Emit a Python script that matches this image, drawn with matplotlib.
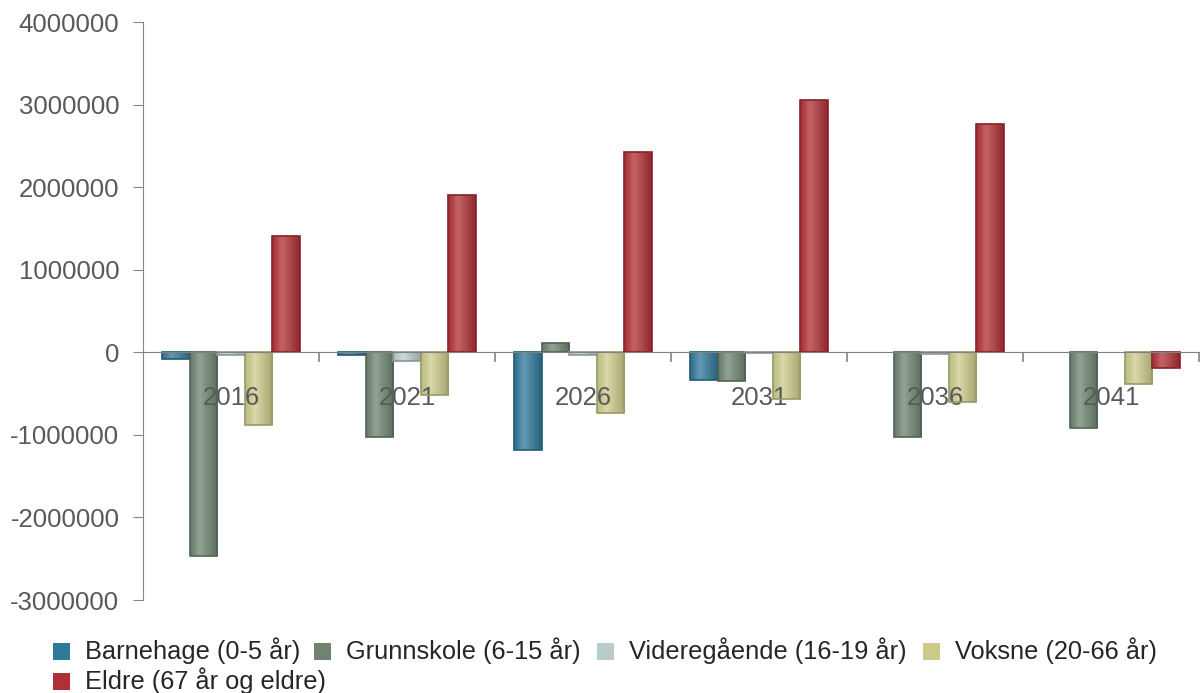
import numpy as np
import matplotlib
matplotlib.use("Agg")
import matplotlib.pyplot as plt
from matplotlib.colors import LinearSegmentedColormap, to_rgb
from matplotlib.patches import Rectangle
from matplotlib.ticker import FuncFormatter

plt.rcParams["font.family"] = ["Liberation Sans", "DejaVu Sans"]

years = ["2016", "2021", "2026", "2031", "2036", "2041"]
series = [
    "Barnehage (0-5 år)",
    "Grunnskole (6-15 år)",
    "Videregående (16-19 år)",
    "Voksne (20-66 år)",
    "Eldre (67 år og eldre)",
]
barnehage = [-85000, -35000, -1180000, -330000, 0, 0]
grunnskole = [-2470000, -1020000, 110000, -350000, -1020000, -920000]
videregaende = [-35000, -110000, -35000, -12000, -15000, 0]
voksne = [-880000, -520000, -730000, -560000, -600000, -390000]
eldre = [1410000, 1900000, 2420000, 3050000, 2760000, -195000]
colors = ["#2f7899", "#6e8470", "#b8cccb", "#cccb8a", "#b03035"]

values = [barnehage, grunnskole, videregaende, voksne, eldre]


def shade(c, f):
    r = np.array(to_rgb(c))
    if f >= 0:
        return tuple(r + (1 - r) * f)
    return tuple(r * (1 + f))


fig = plt.figure(figsize=(12, 6.93), dpi=100)
ax = fig.add_axes([143 / 1200, 1 - 600 / 693, (1199 - 143) / 1200, (600 - 22) / 693])

x = np.arange(len(years))
width = 0.157
grad = np.linspace(0, 1, 64).reshape(1, -1)
for i, (vals, col) in enumerate(zip(values, colors)):
    pos = x + (i - 2) * width
    bars = ax.bar(pos, vals, width, facecolor="none", edgecolor=shade(col, -0.25), linewidth=1.2, zorder=2)
    cmap = LinearSegmentedColormap.from_list(
        "g", [(0, shade(col, -0.08)), (0.35, shade(col, 0.25)), (1, shade(col, -0.18))])
    for b in bars:
        h = b.get_height()
        if h == 0:
            b.set_visible(False)
            continue
        im = ax.imshow(grad, cmap=cmap, aspect="auto", zorder=1.5,
                       extent=[b.get_x(), b.get_x() + b.get_width(), min(0, h), max(0, h)])
        im.set_clip_path(b)

ax.set_xlim(-0.5, 5.5)
ax.set_ylim(-3000000, 4000000)
ax.set_yticks(np.arange(-3000000, 4000001, 1000000))
ax.yaxis.set_major_formatter(FuncFormatter(lambda v, p: f"{v:.0f}"))

for s in ["top", "right"]:
    ax.spines[s].set_visible(False)
ax.spines["left"].set_color("#868686")
ax.spines["bottom"].set_color("#808080")
ax.spines["bottom"].set_position(("data", 0))
ax.spines["bottom"].set_zorder(3)

ax.set_xticks(x)
ax.set_xticklabels(years)
ax.set_xticks(x + 0.5, minor=True)
ax.tick_params(axis="x", which="major", length=0, pad=24, labelsize=18.5, labelcolor="#595959")
ax.tick_params(axis="x", which="minor", length=7, width=1.2, color="#808080", direction="out")
ax.tick_params(axis="y", length=7, color="#868686", pad=10, labelsize=18.5, labelcolor="#595959")
for t in ax.get_xticklabels():
    t.set_zorder(5)

# legend laid out as in the original (flowing rows)
W, H = 1200, 693
leg = [(53, 651, 0), (314, 651, 1), (597, 651, 2), (923, 651, 3), (53, 681, 4)]
for px, py, k in leg:
    fig.patches.append(Rectangle((px / W, 1 - (py + 8.5) / H), 17 / W, 17 / H,
                                 transform=fig.transFigure, facecolor=colors[k], edgecolor="none"))
    fig.text((px + 32) / W, 1 - py / H, series[k], fontsize=18.3, color="#262626",
             va="center", ha="left")

fig.savefig("out.png", dpi=100)
